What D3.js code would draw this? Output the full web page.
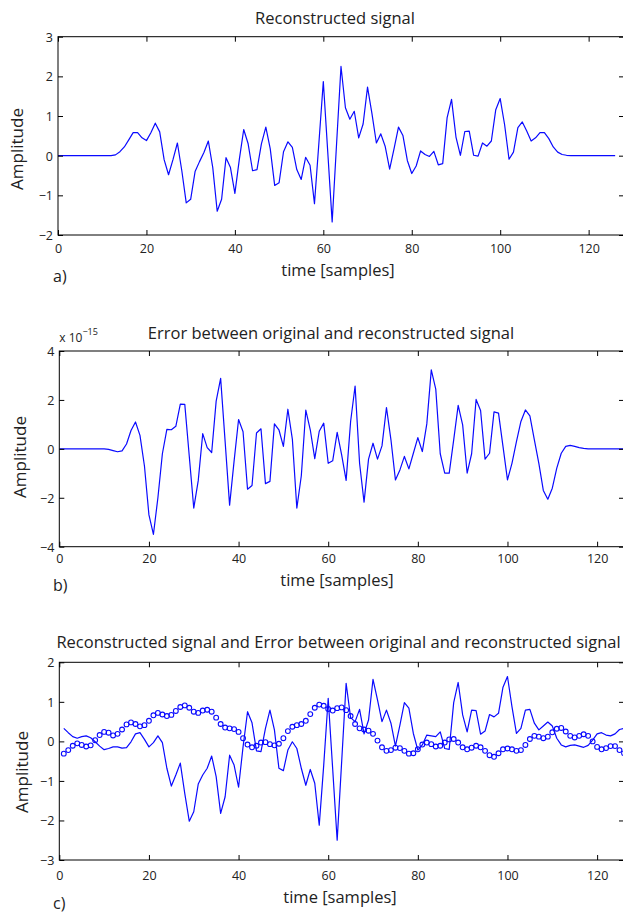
<!DOCTYPE html>
<html>
<head>
<meta charset="utf-8">
<script src="https://cdn.jsdelivr.net/npm/d3@7"></script>
<style>
  body { margin: 0; background: #fff; }
  svg { display: block; font-family: "Open Sans", sans-serif; }
</style>
</head>
<body>
<svg id="fig" width="623" height="915"></svg>
<script>
// tick values
const xTicks = [0, 20, 40, 60, 80, 100, 120];
const yTicksA = [-2, -1, 0, 1, 2, 3];
const yTicksB = [-4, -2, 0, 2, 4];
const yTicksC = [-3, -2, -1, 0, 1, 2];

// a) reconstructed signal, samples 0..126
const reconstructed = [
  0, 0, 0, 0, 0, 0, 0, 0, 0, 0, 0, 0, 0,
  0.02, 0.1, 0.22, 0.4, 0.58, 0.58, 0.45, 0.38, 0.58, 0.82, 0.6, -0.1,
  -0.48, -0.1, 0.32, -0.38, -1.19, -1.1, -0.4, -0.15, 0.08, 0.37, -0.3, -1.4,
  -1.1, -0.05, -0.3, -0.95, -0.1, 0.66, 0.3, -0.38, -0.35, 0.3, 0.72, 0.17,
  -0.75, -0.68, 0.1, 0.35, 0.21, -0.35, -0.6, -0.04, -0.24, -1.21, 0.32, 1.87,
  0.1, -1.67, 0.3, 2.25, 1.21, 0.92, 1.12, 0.45, 0.8, 1.73, 1.06, 0.32,
  0.55, 0.23, -0.34, 0.18, 0.72, 0.51, -0.12, -0.45, -0.26, 0.12, 0.03, -0.02,
  0.11, -0.23, -0.2, 0.96, 1.42, 0.47, 0.01, 0.61, 0.62, 0.01, -0.01, 0.32,
  0.24, 0.37, 1.16, 1.44, 0.78, -0.09, 0.09, 0.71, 0.85, 0.62, 0.37, 0.45,
  0.58, 0.58, 0.43, 0.22, 0.09, 0.03, 0.01,
  0, 0, 0, 0, 0, 0, 0, 0, 0, 0, 0
];

// b) error between original and reconstructed, in units of 1e-15, samples 0..126
const reconError = [
  0, 0, 0, 0, 0, 0, 0, 0, 0, 0, 0,
  -0.02, -0.07, -0.12, -0.08, 0.2, 0.75, 1.1, 0.55, -0.7, -2.7, -3.5, -2.0,
  -0.2, 0.8, 0.78, 0.92, 1.83, 1.82, -0.3, -2.42, -1.3, 0.62, 0.05, -0.15,
  1.95, 2.88, 0.3, -2.3, -0.5, 1.2, 0.7, -1.65, -1.5, 0.65, 0.82, -1.42,
  -1.33, 1.02, 0.78, 0.1, 1.62, 0.4, -2.42, -1.1, 1.58, 0.78, -0.4, 0.72,
  1.05, -0.59, -0.49, 0.67, -0.25, -1.29, 1.12, 2.57, -0.59, -2.18, -0.42, 0.23,
  -0.42, 0.12, 1.69, 0.37, -1.27, -0.86, -0.31, -0.82, -0.18, 0.46, -0.11, 1.02,
  3.23, 2.44, -0.2, -0.99, -0.99, 0.37, 1.78, 0.98, -0.99, -0.2, 2.02, 1.57,
  -0.42, -0.18, 1.51, 1.46, 0.1, -1.27, -0.59, 0.3, 1.12, 1.59, 1.35, 0.37,
  -0.59, -1.7, -2.06, -1.61, -0.79, -0.18, 0.1, 0.14, 0.1, 0.05, 0.02,
  0, 0, 0, 0, 0, 0, 0, 0, 0
];

// c) circles, samples 1..126
const panelCCircles = [
  -0.31, -0.22, -0.11, -0.05, -0.09, -0.13, -0.10, 0.03, 0.16, 0.24,
  0.22, 0.15, 0.19, 0.30, 0.43, 0.48, 0.44, 0.38, 0.41, 0.52,
  0.66, 0.72, 0.68, 0.64, 0.67, 0.77, 0.87, 0.91, 0.85, 0.75,
  0.72, 0.78, 0.80, 0.75, 0.60, 0.44, 0.35, 0.33, 0.31, 0.24,
  0.08, -0.08, -0.15, -0.11, -0.03, -0.02, -0.07, -0.10, -0.06, 0.08,
  0.26, 0.37, 0.41, 0.44, 0.52, 0.69, 0.85, 0.93, 0.90, 0.82,
  0.78, 0.84, 0.86, 0.79, 0.64, 0.44, 0.33, 0.30, 0.27, 0.19,
  0.02, -0.15, -0.24, -0.22, -0.16, -0.17, -0.24, -0.31, -0.30, -0.20,
  -0.08, -0.03, -0.07, -0.13, -0.11, -0.03, 0.05, 0.06, -0.03, -0.15,
  -0.20, -0.16, -0.11, -0.15, -0.24, -0.35, -0.39, -0.30, -0.20, -0.18,
  -0.20, -0.24, -0.22, -0.09, 0.06, 0.14, 0.12, 0.08, 0.12, 0.23,
  0.32, 0.34, 0.25, 0.14, 0.10, 0.14, 0.18, 0.14, 0.00, -0.14,
  -0.20, -0.17, -0.12, -0.12, -0.22, -0.30
];

// c) solid line, samples 1..126
const panelCLine = [
  0.33, 0.22, 0.12, 0.08, 0.12, 0.14, 0.09, -0.01, -0.12, -0.21,
  -0.18, -0.14, -0.14, -0.17, -0.16, -0.01, 0.19, 0.22, 0.05, -0.14,
  -0.03, 0.14, -0.03, -0.68, -1.13, -0.85, -0.55, -1.32, -2.02, -1.78,
  -1.08, -0.85, -0.68, -0.37, -0.89, -1.82, -1.40, -0.35, -0.60, -1.16,
  -0.14, 0.75, 0.47, -0.24, -0.26, 0.33, 0.79, 0.29, -0.68, -0.74,
  -0.22, -0.01, -0.18, -0.68, -1.11, -0.71, -1.06, -2.12, -0.6, 1.09,
  -0.7, -2.5, -0.52, 1.47, 0.6, 0.5, 0.81, 0.19, 0.54, 1.57,
  1.05, 0.50, 0.79, 0.46, -0.12, 0.41, 0.98, 0.84, 0.20, -0.22,
  -0.09, 0.16, 0.14, 0.12, 0.24, -0.18, -0.20, 0.98, 1.49, 0.67,
  0.24, 0.79, 0.78, 0.18, 0.26, 0.68, 0.62, 0.71, 1.37, 1.64,
  0.88, 0.20, 0.33, 0.79, 0.81, 0.46, 0.29, 0.39, 0.49, 0.39,
  0.08, -0.09, -0.14, -0.10, -0.09, -0.12, -0.15, -0.10, 0.03, 0.19,
  0.22, 0.16, 0.14, 0.19, 0.30, 0.33
];

const blue = "#0a0aff";
const ink = "#222";

const svg = d3.select("#fig");
svg.append("rect").attr("width", 623).attr("height", 915).attr("fill", "#fff");

const panels = [
  {
    tag: "a)", left: 58, right: 624, top: 36.7, bottom: 235, xMax: 128,
    yDomain: [-2, 3], yTicks: yTicksA,
    title: "Reconstructed signal", titleX: 335, titleY: 24, titleSize: 16.5,
    xLabelX: 338, xLabelY: 275.5, tickY: 252.5, yLabelX: 23, yLabelY: 149, tagY: 281.5,
    lines: [{values: reconstructed, start: 0}], circles: []
  },
  {
    tag: "b)", left: 59.3, right: 624, top: 351, bottom: 546.7, xMax: 126,
    yDomain: [-4, 4], yTicks: yTicksB,
    title: "Error between original and reconstructed signal", titleX: 331, titleY: 339, titleSize: 16.5,
    xLabelX: 337, xLabelY: 585.5, tickY: 563.5, yLabelX: 26, yLabelY: 457, tagY: 591,
    lines: [{values: reconError, start: 0}], circles: [], exponent: true
  },
  {
    tag: "c)", left: 59.3, right: 624, top: 662.3, bottom: 860, xMax: 126,
    yDomain: [-3, 2], yTicks: yTicksC,
    title: "Reconstructed signal and Error between original and reconstructed signal",
    titleX: 338.5, titleY: 647.5, titleSize: 16.5,
    xLabelX: 340, xLabelY: 903, tickY: 879.5, yLabelX: 27.5, yLabelY: 772, tagY: 909,
    lines: [{values: panelCLine, start: 1}], circles: [{values: panelCCircles, start: 1}]
  }
];

panels.forEach((p, k) => drawPanel(p, k));

function drawPanel(p, k) {
  const x = d3.scaleLinear().domain([0, p.xMax]).range([p.left, p.right]);
  const y = d3.scaleLinear().domain(p.yDomain).range([p.bottom, p.top]);
  const g = svg.append("g");

  const clipId = "clip" + k;
  svg.append("clipPath").attr("id", clipId)
    .append("rect")
    .attr("x", p.left).attr("y", p.top)
    .attr("width", p.right - p.left).attr("height", p.bottom - p.top);

  // data
  const plot = g.append("g").attr("clip-path", `url(#${clipId})`);
  p.lines.forEach(s => {
    const line = d3.line()
      .x((d, i) => x(i + s.start))
      .y(d => y(d));
    plot.append("path")
      .datum(s.values)
      .attr("d", line)
      .attr("fill", "none")
      .attr("stroke", blue)
      .attr("stroke-width", 1.2)
      .attr("stroke-linejoin", "round");
  });
  p.circles.forEach(s => {
    plot.selectAll(null)
      .data(s.values)
      .join("circle")
      .attr("cx", (d, i) => x(i + s.start))
      .attr("cy", d => y(d))
      .attr("r", 2.4)
      .attr("fill", "none")
      .attr("stroke", blue)
      .attr("stroke-width", 1.1);
  });

  // axes, ticks pointing inward on all four sides
  const bottomAxis = g.append("g")
    .attr("transform", `translate(0,${p.bottom})`)
    .call(d3.axisBottom(x).tickValues(xTicks).tickSize(-5).tickFormat(d3.format("d")));
  bottomAxis.selectAll("text").attr("y", p.tickY - p.bottom).attr("dy", 0);

  g.append("g")
    .attr("transform", `translate(${p.left},0)`)
    .call(d3.axisLeft(y).tickValues(p.yTicks).tickSize(-5).tickPadding(5).tickFormat(d3.format("d")))
    .selectAll("text").attr("dy", "0.36em");

  g.append("g")
    .attr("transform", `translate(0,${p.top})`)
    .call(d3.axisTop(x).tickValues(xTicks).tickSize(-5).tickFormat(""));

  g.append("g")
    .attr("transform", `translate(${p.right},0)`)
    .call(d3.axisRight(y).tickValues(p.yTicks).tickSize(-5).tickFormat(""));

  g.selectAll(".domain").remove();
  g.selectAll(".tick line").attr("stroke", "#000").attr("stroke-width", 1);
  g.selectAll(".tick text")
    .attr("fill", ink)
    .style("font-family", "'Open Sans', sans-serif")
    .style("font-size", "12.5px");

  g.append("rect")
    .attr("x", p.left).attr("y", p.top)
    .attr("width", p.right - p.left).attr("height", p.bottom - p.top)
    .attr("fill", "none").attr("stroke", "#000").attr("stroke-width", 1);

  // texts
  g.append("text")
    .attr("x", p.titleX).attr("y", p.titleY)
    .attr("text-anchor", "middle")
    .attr("fill", ink)
    .style("font-size", p.titleSize + "px")
    .text(p.title);

  g.append("text")
    .attr("x", p.xLabelX).attr("y", p.xLabelY)
    .attr("text-anchor", "middle")
    .attr("fill", ink)
    .style("font-size", "16.5px")
    .text("time [samples]");

  g.append("text")
    .attr("transform", `translate(${p.yLabelX},${p.yLabelY}) rotate(-90)`)
    .attr("text-anchor", "middle")
    .attr("fill", ink)
    .style("font-size", "17px")
    .text("Amplitude");

  g.append("text")
    .attr("x", 53).attr("y", p.tagY)
    .attr("fill", ink)
    .style("font-size", "16px")
    .text(p.tag);

  if (p.exponent) {
    const t = g.append("text")
      .attr("x", p.left).attr("y", p.top - 9.5)
      .attr("fill", ink)
      .style("font-size", "12px");
    t.append("tspan").text("x 10");
    t.append("tspan").attr("dy", -7).style("font-size", "9px").text("\u221215");
  }
}
</script>
</body>
</html>
